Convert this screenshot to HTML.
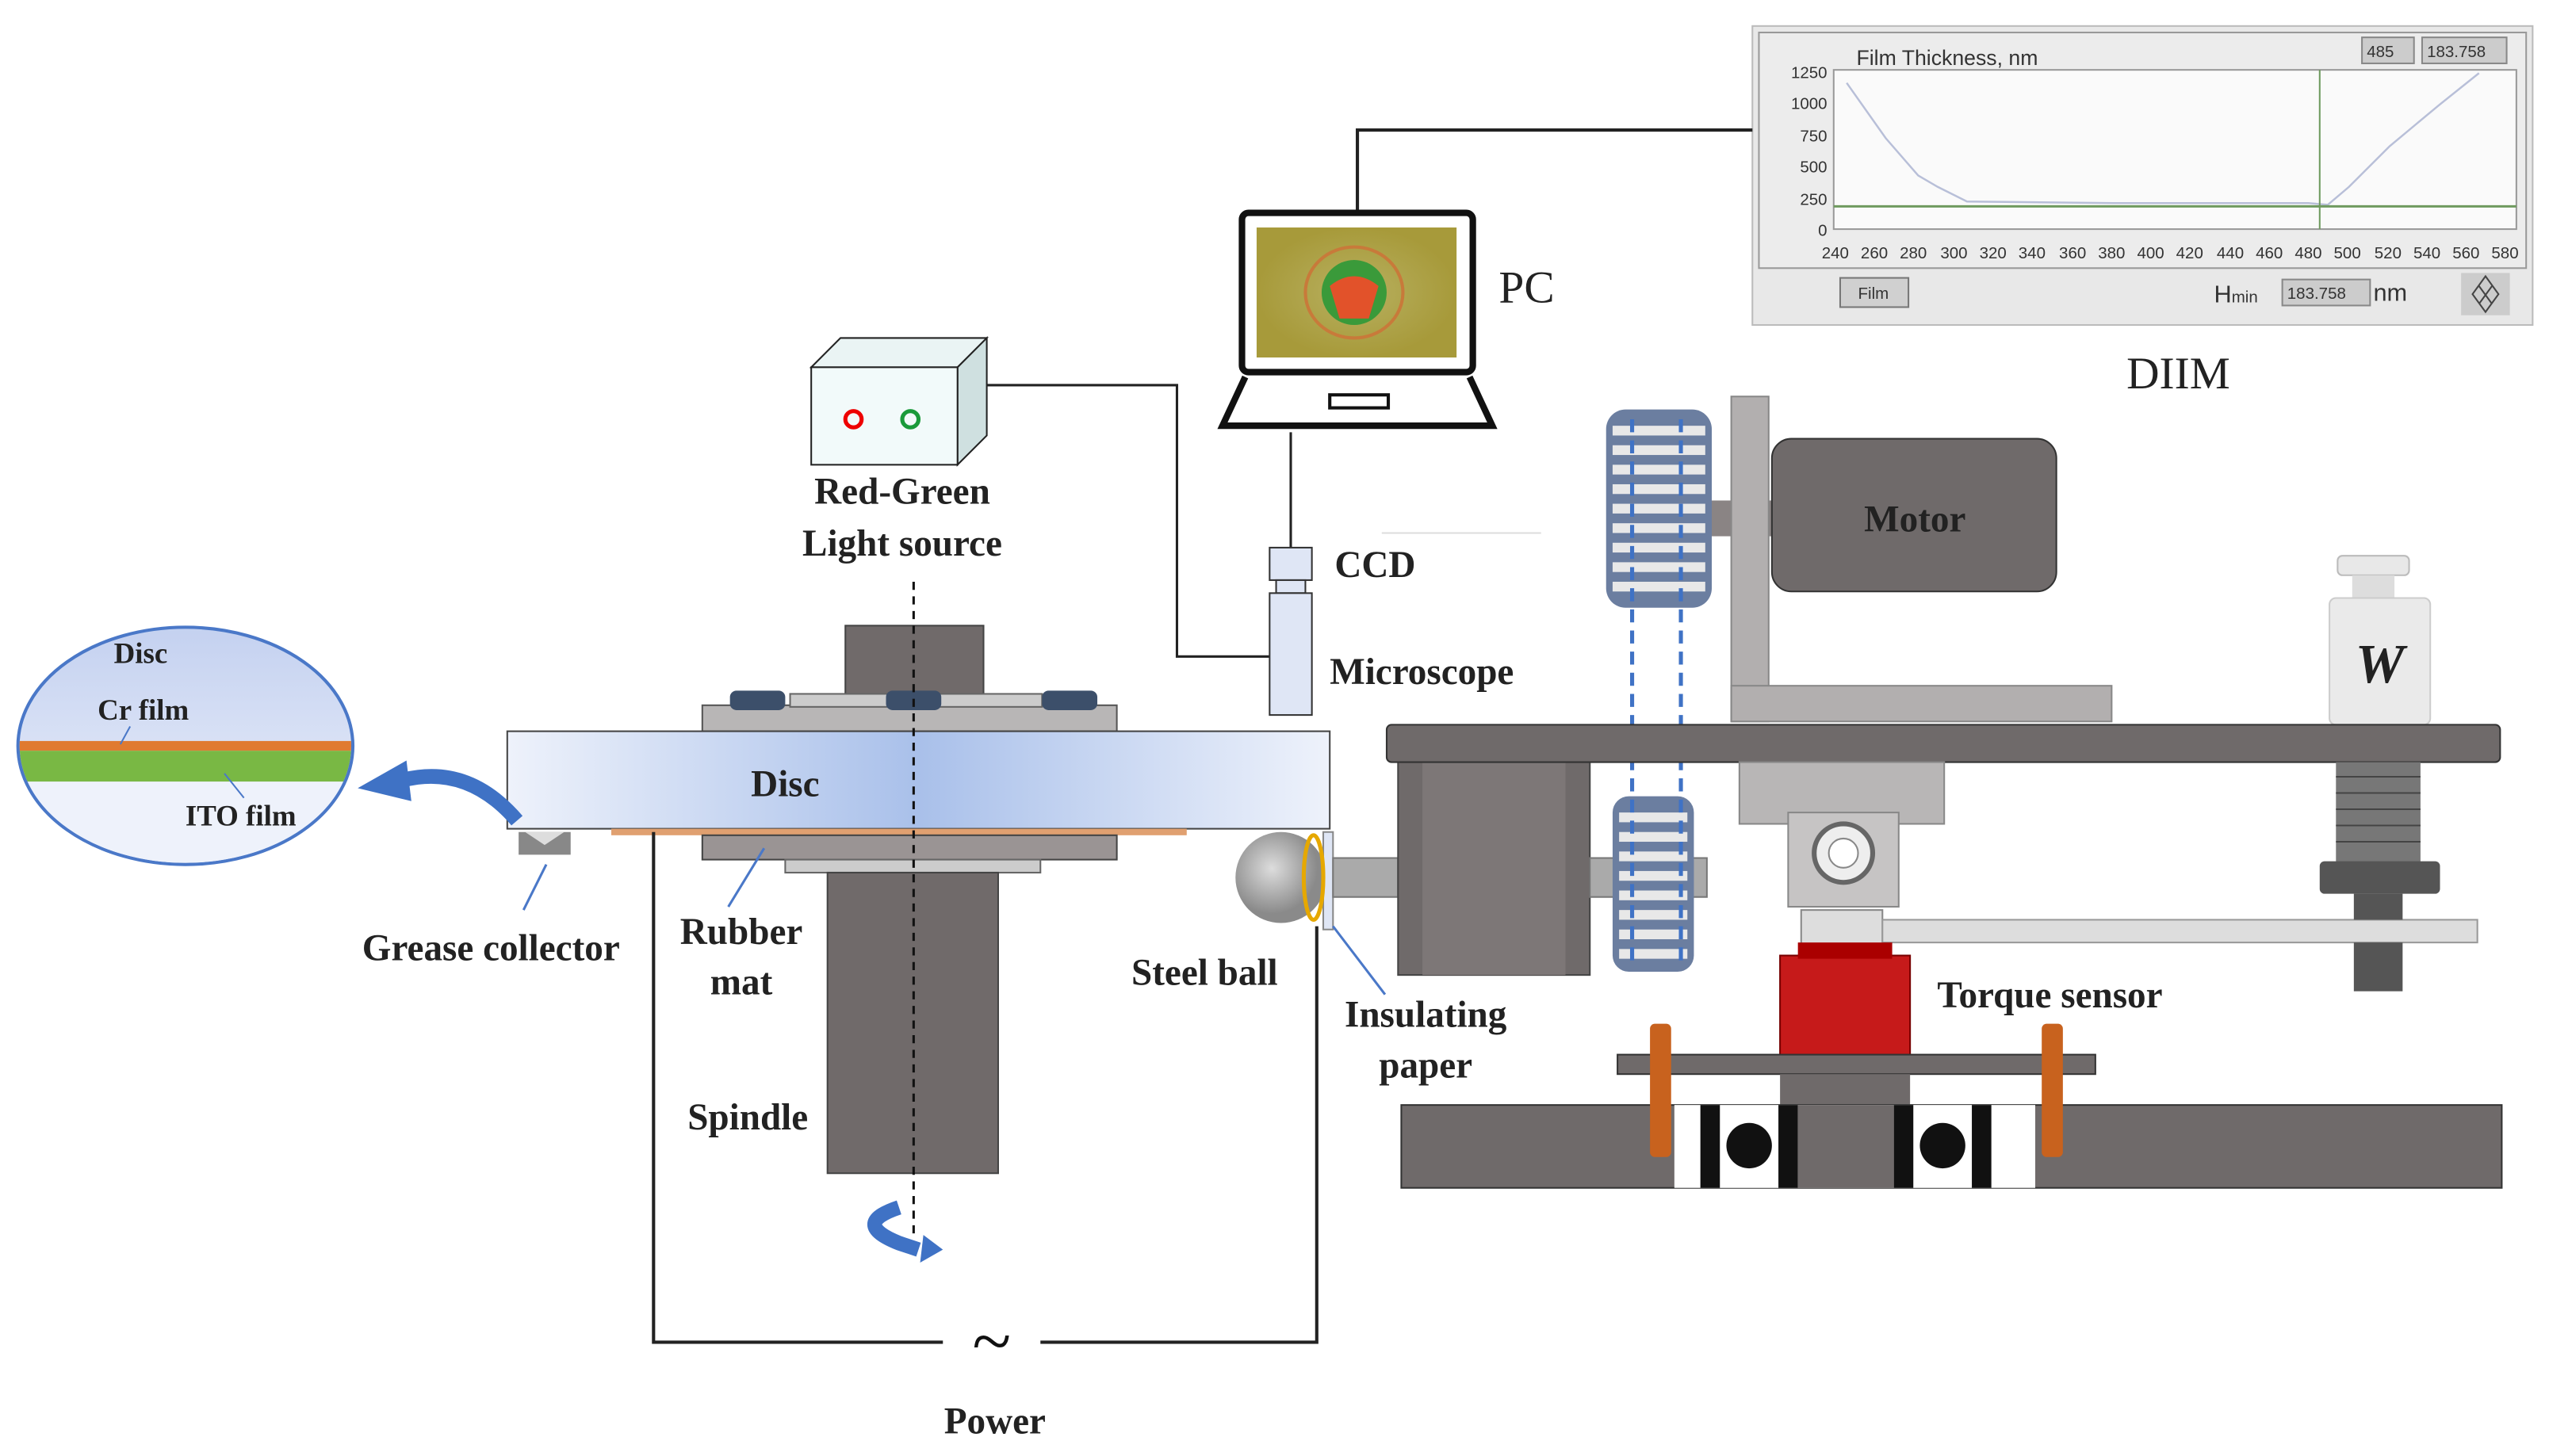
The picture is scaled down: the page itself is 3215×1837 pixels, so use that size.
<!DOCTYPE html>
<html><head><meta charset="utf-8"><style>
html,body{margin:0;padding:0;background:#fff}
svg{display:block}
.b{font-family:"Liberation Serif",serif;font-weight:bold;fill:#222}
.s{font-family:"Liberation Sans",sans-serif;fill:#333}
</style></head><body>
<svg width="3215" height="1837" viewBox="0 0 1568 896" xmlns="http://www.w3.org/2000/svg">
<defs>
<linearGradient id="disc" x1="0" x2="1"><stop offset="0" stop-color="#eef2fb"/><stop offset="0.5" stop-color="#a9c0ea"/><stop offset="1" stop-color="#eef2fb"/></linearGradient>
<linearGradient id="ell" x1="0" x2="0" y1="0" y2="1"><stop offset="0" stop-color="#c4d1f0"/><stop offset="1" stop-color="#eef2fb"/></linearGradient>
<radialGradient id="scr"><stop offset="0" stop-color="#b8b060"/><stop offset="1" stop-color="#a79a3a"/></radialGradient>
<radialGradient id="ball" cx="0.4" cy="0.4"><stop offset="0" stop-color="#ddd"/><stop offset="1" stop-color="#8a8a8a"/></radialGradient>
</defs>

<!-- DIIM chart panel -->
<rect x="1078" y="16" width="480" height="184" fill="#e8e8e8" stroke="#bbb"/>
<rect x="1082" y="20" width="472" height="145" fill="#ececec" stroke="#999"/>
<rect x="1128" y="43" width="420" height="98" fill="#fafafa" stroke="#999"/>
<text x="1142" y="40" class="s" font-size="13">Film Thickness, nm</text>
<rect x="1453" y="23" width="32" height="16" fill="#ccc" stroke="#888"/><text x="1456" y="35" class="s" font-size="10">485</text>
<rect x="1490" y="23" width="52" height="16" fill="#ccc" stroke="#888"/><text x="1493" y="35" class="s" font-size="10">183.758</text>
<g class="s" font-size="10" text-anchor="end">
<text x="1124" y="48">1250</text><text x="1124" y="67">1000</text><text x="1124" y="87">750</text><text x="1124" y="106">500</text><text x="1124" y="126">250</text><text x="1124" y="145">0</text>
</g>
<g class="s" font-size="10" text-anchor="middle">
<text x="1129" y="159">240</text><text x="1153" y="159">260</text><text x="1177" y="159">280</text><text x="1202" y="159">300</text><text x="1226" y="159">320</text><text x="1250" y="159">340</text><text x="1275" y="159">360</text><text x="1299" y="159">380</text><text x="1323" y="159">400</text><text x="1347" y="159">420</text><text x="1372" y="159">440</text><text x="1396" y="159">460</text><text x="1420" y="159">480</text><text x="1444" y="159">500</text><text x="1469" y="159">520</text><text x="1493" y="159">540</text><text x="1517" y="159">560</text><text x="1541" y="159">580</text>
</g>
<polyline points="1136,51 1160,85 1180,108 1192,115 1210,124 1300,125 1420,125 1432,126 1445,115 1470,90 1500,65 1525,45" fill="none" stroke="#b8bfd8" stroke-width="1.2"/>
<line x1="1128" y1="127" x2="1548" y2="127" stroke="#6f9a5f" stroke-width="1.5"/>
<line x1="1427" y1="43" x2="1427" y2="141" stroke="#6f9a5f" stroke-width="1"/>
<rect x="1132" y="171" width="42" height="18" fill="#d0d0d0" stroke="#777"/><text x="1143" y="184" class="s" font-size="10">Film</text>
<text x="1362" y="186" class="s" font-size="15">H<tspan font-size="10">min</tspan></text>
<rect x="1404" y="172" width="54" height="16" fill="#ccc" stroke="#888"/><text x="1407" y="184" class="s" font-size="10">183.758</text>
<text x="1460" y="185" class="s" font-size="15">nm</text>
<rect x="1514" y="168" width="30" height="26" fill="#ccc"/>
<path d="M1529,170 l8,11 l-8,11 l-8,-11z M1525,176 l8,11 M1533,176 l-8,11" fill="none" stroke="#444"/>
<text x="1340" y="239" text-anchor="middle" font-family="Liberation Serif,serif" font-size="28" fill="#222">DIIM</text>

<!-- PC -->
<polyline points="835,130 835,80 1078,80" fill="none" stroke="#222" stroke-width="2"/>
<rect x="764" y="131" width="142" height="98" rx="4" fill="#fff" stroke="#111" stroke-width="4"/>
<rect x="773" y="140" width="123" height="80" fill="url(#scr)"/>
<ellipse cx="833" cy="180" rx="30" ry="28" fill="none" stroke="#c87a3a" stroke-width="2"/>
<ellipse cx="833" cy="180" rx="20" ry="20" fill="#3a9a3a"/>
<path d="M818,176 q15,-12 30,0 l-6,20 h-18z" fill="#e2522a"/>
<path d="M766,232 L752,262 L918,262 L904,232" fill="#fff" stroke="#111" stroke-width="4"/>
<rect x="818" y="243" width="36" height="8" fill="none" stroke="#111" stroke-width="2"/>
<text x="922" y="186" font-family="Liberation Serif,serif" font-size="28" fill="#222">PC</text>
<line x1="794" y1="266" x2="794" y2="337" stroke="#222" stroke-width="1.5"/>

<!-- light source -->
<path d="M499,226 l18,-18 h90 l-18,18z" fill="#eaf4f4" stroke="#222"/>
<path d="M589,226 l18,-18 v60 l-18,18z" fill="#cfe0e0" stroke="#222"/>
<rect x="499" y="226" width="90" height="60" fill="#f2fafa" stroke="#222"/>
<circle cx="525" cy="258" r="5" fill="none" stroke="#e00" stroke-width="2.5"/>
<circle cx="560" cy="258" r="5" fill="none" stroke="#1a9a3a" stroke-width="2.5"/>
<polyline points="607,237 724,237 724,404 781,404" fill="none" stroke="#222" stroke-width="1.5"/>
<text x="555" y="310" text-anchor="middle" class="b" font-size="23">Red-Green</text>
<text x="555" y="342" text-anchor="middle" class="b" font-size="23">Light source</text>

<!-- CCD / microscope -->
<rect x="781" y="337" width="26" height="20" fill="#dfe6f5" stroke="#333"/>
<rect x="785" y="357" width="18" height="8" fill="#dfe6f5" stroke="#333"/>
<rect x="781" y="365" width="26" height="75" fill="#dfe6f5" stroke="#333"/>
<line x1="850" y1="328" x2="948" y2="328" stroke="#ddd"/>
<text x="821" y="355" class="b" font-size="23">CCD</text>
<text x="818" y="421" class="b" font-size="23">Microscope</text>

<!-- spindle assembly -->
<rect x="520" y="385" width="85" height="50" fill="#706a6a" stroke="#444"/>
<rect x="432" y="434" width="255" height="16" fill="#b8b6b6" stroke="#555"/>
<rect x="486" y="427" width="155" height="8" fill="#ccc" stroke="#666"/>
<rect x="449" y="425" width="34" height="12" rx="4" fill="#3c4f6a"/>
<rect x="545" y="425" width="34" height="12" rx="4" fill="#3c4f6a"/>
<rect x="641" y="425" width="34" height="12" rx="4" fill="#3c4f6a"/>
<rect x="312" y="450" width="506" height="60" fill="url(#disc)" stroke="#444"/>
<text x="483" y="490" text-anchor="middle" class="b" font-size="23">Disc</text>
<rect x="376" y="510" width="354" height="4" fill="#e0a070"/>
<rect x="432" y="514" width="255" height="15" fill="#9a9494" stroke="#444"/>
<rect x="483" y="529" width="157" height="8" fill="#ccc" stroke="#666"/>
<rect x="509" y="537" width="105" height="185" fill="#706a6a" stroke="#444"/>
<line x1="562" y1="358" x2="562" y2="760" stroke="#111" stroke-dasharray="5,4" stroke-width="1.5"/>
<path d="M553,743 q-30,10 0,22 l12,4" fill="none" stroke="#3f72c5" stroke-width="9"/>
<path d="M568,760 l12,9 l-14,8z" fill="#3f72c5"/>
<text x="460" y="695" text-anchor="middle" class="b" font-size="23">Spindle</text>
<text x="456" y="581" text-anchor="middle" class="b" font-size="23">Rubber</text>
<text x="456" y="612" text-anchor="middle" class="b" font-size="23">mat</text>
<line x1="448" y1="558" x2="470" y2="522" stroke="#4a78c8" stroke-width="1.5"/>

<!-- grease collector -->
<path d="M319,512 h32 v14 h-32z" fill="#888"/><path d="M323,512 l12,8 l12,-8z" fill="#ddd"/>
<line x1="322" y1="560" x2="336" y2="532" stroke="#4a78c8" stroke-width="1.5"/>
<text x="302" y="591" text-anchor="middle" class="b" font-size="23">Grease collector</text>

<!-- inset ellipse -->
<ellipse cx="114" cy="459" rx="103" ry="73" fill="url(#ell)" stroke="#4a78c8" stroke-width="2"/>
<clipPath id="ec"><ellipse cx="114" cy="459" rx="102" ry="72"/></clipPath>
<g clip-path="url(#ec)"><rect x="0" y="456" width="230" height="6" fill="#e07a30"/><rect x="0" y="462" width="230" height="19" fill="#79b844"/><rect x="0" y="481" width="230" height="60" fill="#eef2fb"/></g>
<text x="70" y="408" class="b" font-size="18">Disc</text>
<text x="60" y="443" class="b" font-size="18">Cr film</text>
<text x="114" y="508" class="b" font-size="18">ITO film</text>
<line x1="80" y1="447" x2="74" y2="458" stroke="#4a78c8"/>
<line x1="138" y1="476" x2="150" y2="491" stroke="#4a78c8"/>
<path d="M318,505 q-30,-35 -70,-25" fill="none" stroke="#3f72c5" stroke-width="9"/>
<path d="M220,485 l30,-17 l3,25z" fill="#3f72c5"/>

<!-- power circuit -->
<polyline points="402,512 402,826 580,826" fill="none" stroke="#222" stroke-width="2"/>
<polyline points="640,826 810,826 810,570" fill="none" stroke="#222" stroke-width="2"/>
<text x="610" y="840" text-anchor="middle" font-family="Liberation Serif,serif" font-size="44" fill="#111">~</text>
<text x="612" y="882" text-anchor="middle" class="b" font-size="23">Power</text>

<!-- steel ball -->
<circle cx="788" cy="540" r="28" fill="url(#ball)"/>
<rect x="814" y="512" width="6" height="60" fill="#dfe6f5" stroke="#888"/>
<ellipse cx="808" cy="540" rx="6" ry="26" fill="none" stroke="#e6a800" stroke-width="2.5"/>
<text x="741" y="606" text-anchor="middle" class="b" font-size="23">Steel ball</text>
<line x1="852" y1="612" x2="820" y2="570" stroke="#4a78c8" stroke-width="1.5"/>
<text x="877" y="632" text-anchor="middle" class="b" font-size="23">Insulating</text>
<text x="877" y="663" text-anchor="middle" class="b" font-size="23">paper</text>

<!-- right mechanism -->
<rect x="820" y="528" width="40" height="24" fill="#aaa" stroke="#777"/>
<rect x="860" y="468" width="118" height="132" fill="#6f6a6a" stroke="#444"/>
<rect x="875" y="468" width="88" height="132" fill="#7d7777"/>
<rect x="978" y="528" width="72" height="24" fill="#aaa" stroke="#777"/>
<!-- gears -->
<g>
<rect x="988" y="252" width="65" height="122" rx="12" fill="#6b7ea0"/>
<g fill="#e8e8e8"><rect x="992" y="262" width="57" height="6"/><rect x="992" y="274" width="57" height="6"/><rect x="992" y="286" width="57" height="6"/><rect x="992" y="298" width="57" height="6"/><rect x="992" y="310" width="57" height="6"/><rect x="992" y="322" width="57" height="6"/><rect x="992" y="334" width="57" height="6"/><rect x="992" y="346" width="57" height="6"/><rect x="992" y="358" width="57" height="6"/></g>
<rect x="992" y="490" width="50" height="108" rx="10" fill="#6b7ea0"/>
<g fill="#e8e8e8"><rect x="996" y="500" width="42" height="6"/><rect x="996" y="512" width="42" height="6"/><rect x="996" y="524" width="42" height="6"/><rect x="996" y="536" width="42" height="6"/><rect x="996" y="548" width="42" height="6"/><rect x="996" y="560" width="42" height="6"/><rect x="996" y="572" width="42" height="6"/><rect x="996" y="584" width="42" height="6"/></g>
<line x1="1004" y1="258" x2="1004" y2="596" stroke="#3f72c5" stroke-width="2.5" stroke-dasharray="8,5"/>
<line x1="1034" y1="258" x2="1034" y2="596" stroke="#3f72c5" stroke-width="2.5" stroke-dasharray="8,5"/>
</g>
<rect x="1053" y="308" width="40" height="22" fill="#8a8484"/>
<rect x="1065" y="244" width="23" height="200" fill="#b2afaf" stroke="#888"/>
<rect x="1065" y="422" width="234" height="22" fill="#b2afaf" stroke="#888"/>
<rect x="1090" y="270" width="175" height="94" rx="12" fill="#6f6a6a" stroke="#333"/>
<text x="1178" y="327" text-anchor="middle" class="b" font-size="23">Motor</text>
<!-- weight -->
<rect x="1438" y="342" width="44" height="12" rx="3" fill="#e8e8e8" stroke="#bbb"/>
<rect x="1447" y="354" width="26" height="14" fill="#ddd"/>
<rect x="1433" y="368" width="62" height="78" rx="4" fill="#eaeaea" stroke="#ccc"/>
<text x="1464" y="420" text-anchor="middle" font-family="Liberation Serif,serif" font-style="italic" font-weight="bold" font-size="34" fill="#222">W</text>
<!-- beam -->
<rect x="853" y="446" width="685" height="23" rx="3" fill="#6f6a6a" stroke="#333"/>
<rect x="1070" y="469" width="126" height="38" fill="#b8b6b6" stroke="#888"/>
<rect x="1100" y="500" width="68" height="58" fill="#c6c4c4" stroke="#888"/>
<circle cx="1134" cy="525" r="18" fill="#eee" stroke="#666" stroke-width="3"/>
<circle cx="1134" cy="525" r="9" fill="#fff" stroke="#888"/>
<rect x="1108" y="560" width="50" height="28" fill="#ddd" stroke="#888"/>
<rect x="1158" y="566" width="366" height="14" fill="#ddd" stroke="#999"/>
<rect x="1437" y="469" width="52" height="62" fill="#777"/>
<g stroke="#444"><line x1="1437" y1="478" x2="1489" y2="478"/><line x1="1437" y1="488" x2="1489" y2="488"/><line x1="1437" y1="498" x2="1489" y2="498"/><line x1="1437" y1="508" x2="1489" y2="508"/><line x1="1437" y1="518" x2="1489" y2="518"/></g>
<rect x="1427" y="530" width="74" height="20" rx="3" fill="#555"/>
<rect x="1448" y="550" width="30" height="16" fill="#555"/>
<rect x="1448" y="580" width="30" height="30" fill="#555"/>
<rect x="1095" y="588" width="80" height="62" fill="#c61a1a" stroke="#700"/>
<rect x="1106" y="580" width="58" height="10" fill="#a00"/>
<text x="1261" y="620" text-anchor="middle" class="b" font-size="23">Torque sensor</text>
<!-- base -->
<rect x="995" y="649" width="294" height="12" fill="#6f6a6a" stroke="#333"/>
<rect x="1095" y="661" width="80" height="20" fill="#6f6a6a"/>
<rect x="862" y="680" width="677" height="51" fill="#6f6a6a" stroke="#333"/>
<rect x="1030" y="680" width="222" height="51" fill="#fff"/>
<rect x="1046" y="680" width="60" height="51" fill="#111"/><rect x="1058" y="680" width="36" height="51" fill="#fff"/><circle cx="1076" cy="705" r="14" fill="#111"/>
<rect x="1165" y="680" width="60" height="51" fill="#111"/><rect x="1177" y="680" width="36" height="51" fill="#fff"/><circle cx="1195" cy="705" r="14" fill="#111"/>
<rect x="1106" y="680" width="59" height="51" fill="#6f6a6a"/>
<rect x="1015" y="630" width="13" height="82" rx="3" fill="#c8621e"/>
<rect x="1256" y="630" width="13" height="82" rx="3" fill="#c8621e"/>
</svg>
</body></html>
